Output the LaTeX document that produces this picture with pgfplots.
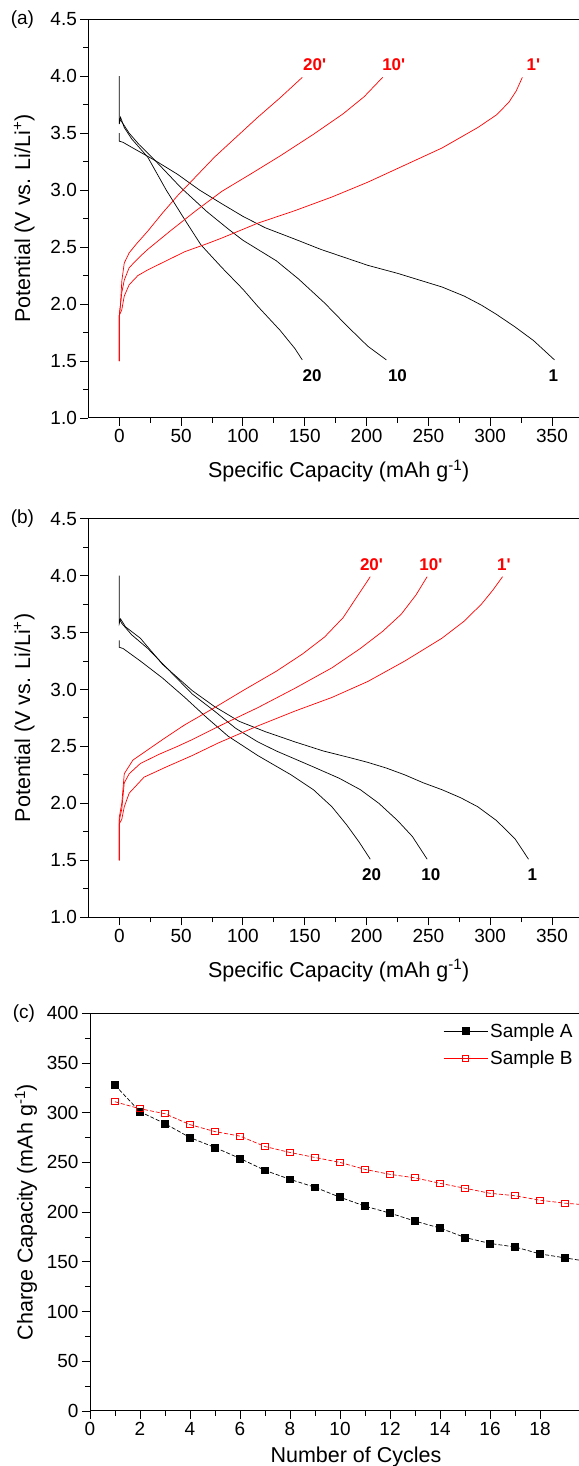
\documentclass[border=0pt]{standalone}
\usepackage{pgfplots}
\pgfplotsset{compat=1.18}
\usepackage{fontspec}
\setmainfont{Liberation Sans}

% shared look of the three panels
\pgfplotsset{
  panel/.style={
    scale only axis, anchor=south west, clip=false,
    axis line style={line width=1pt},
    tick style={line width=0.9pt, black},
    tick align=outside, major tick length=8pt, minor tick length=5pt,
    xtick pos=bottom, ytick pos=left, minor tick num=1,
    ticklabel style={font=\fontsize{19}{21}\selectfont},
    /pgf/number format/assume math mode=true,
    every axis x label/.style={at={(axis description cs:0.5,0)}, anchor=center, yshift=-53pt,
      font=\fontsize{21.5}{25}\selectfont},
    every axis y label/.style={at={(axis description cs:-0.128,0.5)}, anchor=center, rotate=90,
      font=\fontsize{21.5}{25}\selectfont},
  },
  volt/.style={
    panel, width=500.7pt, height=398.7pt,
    xmin=-25, xmax=380, ymin=1, ymax=4.5,
    xtick={0,50,...,350}, ytick={1,1.5,...,4.5},
    yticklabel style={/pgf/number format/.cd, fixed, fixed zerofill, precision=1},
    xlabel={Specific Capacity (mAh g\textsuperscript{-1})},
    ylabel={Potential (V vs. Li/Li\textsuperscript{+})},
  },
  dis/.style={black, line width=0.7pt, no marks},
  chg/.style={red, line width=0.7pt, no marks},
}
\tikzset{
  rlab/.style={red, font=\fontsize{17}{19}\selectfont\bfseries},
  blab/.style={black, font=\fontsize{17}{19}\selectfont\bfseries},
  plab/.style={xshift=-66pt, font=\fontsize{19}{21}\selectfont},
}

\begin{document}
\begin{tikzpicture}

% (a)
\begin{axis}[volt, at={(88.4pt,1048pt)}]
\addplot[dis] coordinates {(0,4.0)(0,3.58)(1,3.64)(4,3.55)(10,3.45)(23,3.29)(38,3.00)(53,2.74)(66,2.52)(83,2.32)(100,2.13)(112,1.98)(130,1.77)(142,1.61)(148,1.51)};
\addplot[dis] coordinates {(0,3.62)(2,3.60)(8,3.50)(16,3.40)(29,3.26)(50,3.02)(71,2.81)(88,2.66)(100,2.56)(115,2.46)(127,2.38)(145,2.22)(166,2.01)(184,1.81)(201,1.63)(216,1.51)};
\addplot[dis] coordinates {(0,3.50)(0,3.43)(3,3.42)(11,3.37)(29,3.26)(47,3.14)(65,3.00)(83,2.88)(100,2.77)(118,2.67)(142,2.57)(163,2.48)(201,2.34)(225,2.27)(246,2.20)(261,2.15)(279,2.07)(293,1.99)(305,1.91)(320,1.80)(335,1.68)(352,1.51)};
\addplot[chg] coordinates {(0,1.5)(0,1.90)(2,1.95)(4,2.07)(8,2.17)(15,2.25)(23,2.30)(38,2.38)(53,2.46)(71,2.53)(83,2.58)(112,2.71)(142,2.82)(172,2.94)(201,3.07)(231,3.22)(261,3.37)(290,3.55)(305,3.66)(315,3.77)(321,3.87)(326,3.99)};
\addplot[chg] coordinates {(0,1.5)(0,1.90)(1,2.00)(2,2.10)(4,2.21)(8,2.32)(17,2.42)(23,2.48)(41,2.64)(62,2.82)(83,2.99)(106,3.14)(130,3.30)(157,3.49)(181,3.67)(198,3.82)(213,3.99)};
\addplot[chg] coordinates {(0,1.5)(0,1.90)(1,2.00)(2,2.20)(4,2.36)(8,2.45)(14,2.53)(23,2.64)(35,2.80)(47,2.95)(62,3.12)(77,3.29)(95,3.47)(112,3.64)(130,3.81)(148,3.99)};
\node[rlab] at (axis cs:158,4.1) {20\textquotesingle};
\node[rlab] at (axis cs:222,4.1) {10\textquotesingle};
\node[rlab] at (axis cs:335,4.1) {1\textquotesingle};
\node[blab] at (axis cs:156,1.37) {20};
\node[blab] at (axis cs:225,1.37) {10};
\node[blab] at (axis cs:351,1.37) {1};
\node[plab] at (rel axis cs:0,1) {(a)};
\end{axis}

% (b)
\begin{axis}[volt, at={(88.4pt,548.7pt)}]
\addplot[dis] coordinates {(0,4.0)(0,3.58)(1,3.62)(5,3.55)(17,3.45)(35,3.22)(59,2.99)(77,2.85)(97,2.72)(118,2.63)(142,2.54)(165,2.46)(187,2.40)(201,2.36)(216,2.31)(231,2.25)(246,2.18)(261,2.12)(276,2.05)(290,1.97)(305,1.85)(320,1.69)(331,1.51)};
\addplot[dis] coordinates {(0,3.62)(2,3.58)(10,3.48)(23,3.36)(41,3.16)(59,2.96)(77,2.81)(94,2.66)(112,2.54)(127,2.46)(142,2.39)(157,2.32)(178,2.22)(195,2.12)(210,2.00)(225,1.85)(237,1.71)(249,1.51)};
\addplot[dis] coordinates {(0,3.43)(0,3.37)(3,3.36)(17,3.25)(35,3.10)(53,2.93)(71,2.75)(88,2.59)(112,2.42)(139,2.25)(157,2.12)(172,1.97)(184,1.81)(194,1.66)(203,1.51)};
\addplot[chg] coordinates {(0,1.5)(0,1.82)(2,1.86)(4,1.97)(8,2.09)(20,2.23)(38,2.32)(59,2.42)(80,2.53)(112,2.68)(142,2.81)(172,2.93)(201,3.07)(231,3.25)(261,3.45)(279,3.60)(293,3.75)(302,3.87)(310,3.99)};
\addplot[chg] coordinates {(0,1.5)(0,1.85)(2,1.95)(4,2.18)(8,2.26)(17,2.35)(32,2.43)(47,2.50)(59,2.56)(83,2.69)(112,2.84)(142,3.01)(172,3.19)(195,3.36)(213,3.51)(228,3.66)(240,3.83)(249,3.99)};
\addplot[chg] coordinates {(0,1.5)(0,1.88)(2,2.00)(4,2.26)(11,2.38)(23,2.47)(35,2.56)(53,2.69)(77,2.84)(100,2.99)(127,3.16)(148,3.31)(166,3.46)(181,3.63)(192,3.81)(203,3.99)};
\node[rlab] at (axis cs:204,4.1) {20\textquotesingle};
\node[rlab] at (axis cs:252,4.1) {10\textquotesingle};
\node[rlab] at (axis cs:311,4.1) {1\textquotesingle};
\node[blab] at (axis cs:204,1.37) {20};
\node[blab] at (axis cs:252,1.37) {10};
\node[blab] at (axis cs:334,1.37) {1};
\node[plab] at (rel axis cs:0,1) {(b)};
\end{axis}

% (c)
\begin{axis}[panel, at={(90pt,55pt)}, width=500pt, height=397.7pt,
  xmin=0, xmax=20, ymin=0, ymax=400,
  xtick={0,2,...,18}, ytick={0,50,...,400},
  xlabel={Number of Cycles}, ylabel={Charge Capacity (mAh g\textsuperscript{-1})},
  every axis x label/.append style={at={(axis description cs:0.532,0)}, yshift=7pt},
  every axis y label/.append style={at={(axis description cs:-0.128,0.5)}},
  legend style={draw=none, fill=none, at={(axis cs:14.0,394)}, anchor=north west,
    font=\fontsize{19}{21}\selectfont, row sep=8pt},
  legend cell align=left,
  legend image code/.code={
    \draw[#1,solid,line width=1pt] (0pt,0pt) -- (44pt,0pt);
    \draw[#1,solid] plot coordinates {(22pt,0pt)};},
]
\addplot[black, line width=0.7pt, dash pattern=on 4pt off 2pt, mark=square*, mark size=3.4pt, mark options={solid}]
  coordinates {(1,327.7)(2,301)(3,289)(4,275)(5,265)(6,254)(7,242)(8,233)(9,225)(10,215)(11,206)(12,199)(13,191)(14,184)(15,174.5)(16,168.5)(17,165)(18,158)(19,154)(20,150)};
\addlegendentry{Sample A}
\addplot[red, line width=0.7pt, dash pattern=on 4pt off 2pt, mark=square, mark size=3.1pt, mark options={solid, line width=0.9pt}]
  coordinates {(1,311)(2,304)(3,299)(4,288)(5,281)(6,276.5)(7,266)(8,260)(9,255)(10,250)(11,243)(12,238)(13,234.5)(14,229)(15,224)(16,219)(17,216.5)(18,212)(19,209)(20,207)};
\addlegendentry{Sample B}
\node[plab] at (rel axis cs:0,1) {(c)};
\end{axis}

\pgfresetboundingbox
\path[use as bounding box] (0,0) rectangle (578pt,1466pt);
\end{tikzpicture}
\end{document}
